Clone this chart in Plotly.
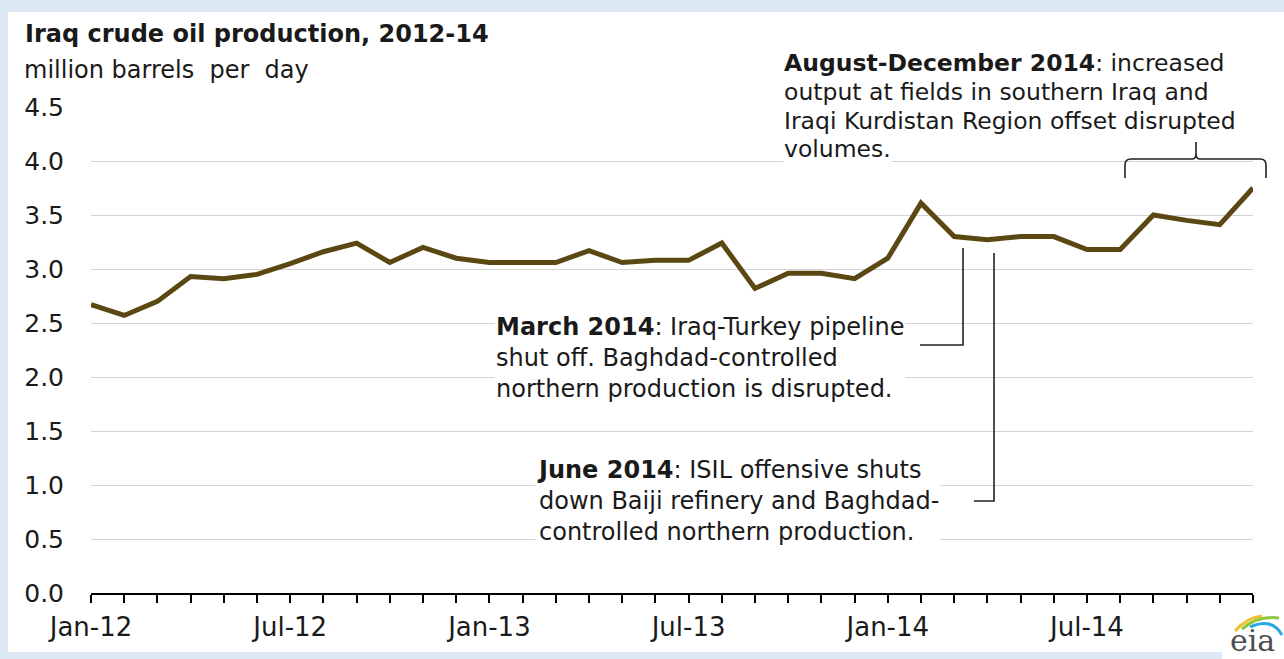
import plotly.graph_objects as go

months = [f"{m}-{y}" for y in ["12", "13", "14"] for m in
          ["Jan", "Feb", "Mar", "Apr", "May", "Jun", "Jul", "Aug", "Sep", "Oct", "Nov", "Dec"]]
production = [2.67, 2.57, 2.70, 2.93, 2.91, 2.95, 3.05, 3.16, 3.24, 3.06, 3.20, 3.10,
              3.06, 3.06, 3.06, 3.17, 3.06, 3.08, 3.08, 3.24, 2.82, 2.96, 2.96, 2.91,
              3.10, 3.61, 3.30, 3.27, 3.30, 3.30, 3.18, 3.18, 3.50, 3.45, 3.41, 3.75]
y_ticks = [0.0, 0.5, 1.0, 1.5, 2.0, 2.5, 3.0, 3.5, 4.0, 4.5]
x_idx = list(range(len(months)))
x_tickvals = x_idx[::6]
x_ticktext = months[::6]

W, H = 1284, 659
L, R, T, B = 91, 1253, 107, 593
FONT = "DejaVu Sans"
TXT = "#1a1a1a"


def px(x):
    return (x - L) / (R - L)


def py(y):
    return (B - y) / (B - T)


fig = go.Figure()
fig.add_trace(go.Scatter(x=x_idx, y=production, mode="lines",
                         line=dict(color="#5a4712", width=5), hoverinfo="skip"))

shapes = []
# white panel on light-blue page
shapes.append(dict(type="rect", xref="paper", yref="paper", layer="below",
                   x0=px(8), x1=px(1284), y0=py(652), y1=py(12),
                   fillcolor="white", line=dict(width=0)))
shapes.append(dict(type="rect", xref="paper", yref="paper", layer="below",
                   x0=px(1222), x1=px(1284), y0=py(659), y1=py(600),
                   fillcolor="white", line=dict(width=0)))
conn = dict(color="#222222", width=1.6)
# March connector
shapes.append(dict(type="path", xref="paper", yref="paper",
                   path=f"M {px(920)} {py(345)} L {px(963)} {py(345)} L {px(963)} {py(248)}",
                   line=conn))
# June connector
shapes.append(dict(type="path", xref="paper", yref="paper",
                   path=f"M {px(974)} {py(501)} L {px(994)} {py(501)} L {px(994)} {py(253)}",
                   line=conn))
# Aug-Dec bracket
bx0, bx1, bxm, by, bybot, bytop = 1125, 1266, 1196, 159, 178, 142
shapes.append(dict(type="path", xref="paper", yref="paper",
                   path=(f"M {px(bx0)} {py(bybot)} L {px(bx0)} {py(by+6)} "
                         f"Q {px(bx0)} {py(by)} {px(bx0+6)} {py(by)} "
                         f"L {px(bxm-4)} {py(by)} Q {px(bxm)} {py(by)} {px(bxm)} {py(by-5)} "
                         f"L {px(bxm)} {py(bytop)} L {px(bxm)} {py(by-5)} "
                         f"Q {px(bxm)} {py(by)} {px(bxm+4)} {py(by)} "
                         f"L {px(bx1-6)} {py(by)} Q {px(bx1)} {py(by)} {px(bx1)} {py(by+6)} "
                         f"L {px(bx1)} {py(bybot)}"),
                   line=conn))
# eia logo swooshes
shapes.append(dict(type="path", xref="paper", yref="paper",
                   path=f"M {px(1235)} {py(631)} Q {px(1246)} {py(618)} {px(1262)} {py(616)}",
                   line=dict(color="#f2c12e", width=3)))
shapes.append(dict(type="path", xref="paper", yref="paper",
                   path=f"M {px(1242)} {py(629)} Q {px(1258)} {py(615)} {px(1279)} {py(618)}",
                   line=dict(color="#8dc63f", width=3)))
shapes.append(dict(type="path", xref="paper", yref="paper",
                   path=f"M {px(1250)} {py(627)} Q {px(1272)} {py(617)} {px(1282)} {py(635)}",
                   line=dict(color="#29a9e0", width=3)))

annotations = [
    dict(text="<b>Iraq crude oil production, 2012-14</b>", x=px(23), y=py(34),
         font=dict(size=24)),
    dict(text="million barrels  per  day", x=px(22), y=py(70), font=dict(size=24)),
    dict(text="<b>March 2014</b>: Iraq-Turkey pipeline<br>shut off. Baghdad-controlled<br>"
              "northern production is disrupted.",
         x=px(494), y=py(357.5), font=dict(size=24), bgcolor="white"),
    dict(text="<b>June 2014</b>: ISIL offensive shuts<br>down Baiji refinery and Baghdad-<br>"
              "controlled northern production.",
         x=px(535), y=py(500.5), font=dict(size=24), bgcolor="white"),
]
aug_lines = ["<b>August-December 2014</b>: increased",
             "output at fields in southern Iraq and",
             "Iraqi Kurdistan Region offset disrupted",
             "volumes."]
aug_y = [63, 92, 121, 149]
for t, yy in zip(aug_lines, aug_y):
    annotations.append(dict(text=t, x=px(783), y=py(yy), font=dict(size=23.5),
                            bgcolor="white", borderpad=0))
for a in annotations:
    a.update(xref="paper", yref="paper", xanchor="left", yanchor="middle", align="left",
             showarrow=False)
    a["font"].update(family=FONT, color=TXT)
annotations.append(dict(text="eia", xref="paper", yref="paper", x=px(1252), y=py(640),
                        xanchor="center", yanchor="middle", showarrow=False,
                        font=dict(family="DejaVu Serif", size=30, color="#4d4d4d")))

fig.update_layout(
    width=W, height=H,
    margin=dict(l=L, r=W - R, t=T, b=H - B, pad=0),
    paper_bgcolor="#dce8f4", plot_bgcolor="rgba(0,0,0,0)",
    showlegend=False,
    shapes=shapes, annotations=annotations,
    font=dict(family=FONT, color=TXT, size=24),
    xaxis=dict(range=[0, 35], tickvals=x_tickvals, ticktext=x_ticktext,
               ticks="outside", ticklen=8, tickwidth=2, tickcolor="black",
               showline=True, linecolor="black", linewidth=2, showgrid=False,
               zeroline=False, tickfont=dict(size=26), ticklabelstandoff=2,
               minor=dict(dtick=1, tick0=0, ticks="outside", ticklen=8, tickwidth=2,
                          tickcolor="black", showgrid=False)),
    yaxis=dict(range=[0, 4.5], tickvals=y_ticks, ticktext=[f"{v:.1f}" for v in y_ticks],
               ticks="", showline=False, showgrid=True, gridcolor="#d4d4d4", gridwidth=1.3,
               zeroline=False, tickfont=dict(size=25), ticklabelstandoff=26),
)

fig.write_html("out.html", config={"displayModeBar": False},
               post_script="document.body.style.margin='0px';")
